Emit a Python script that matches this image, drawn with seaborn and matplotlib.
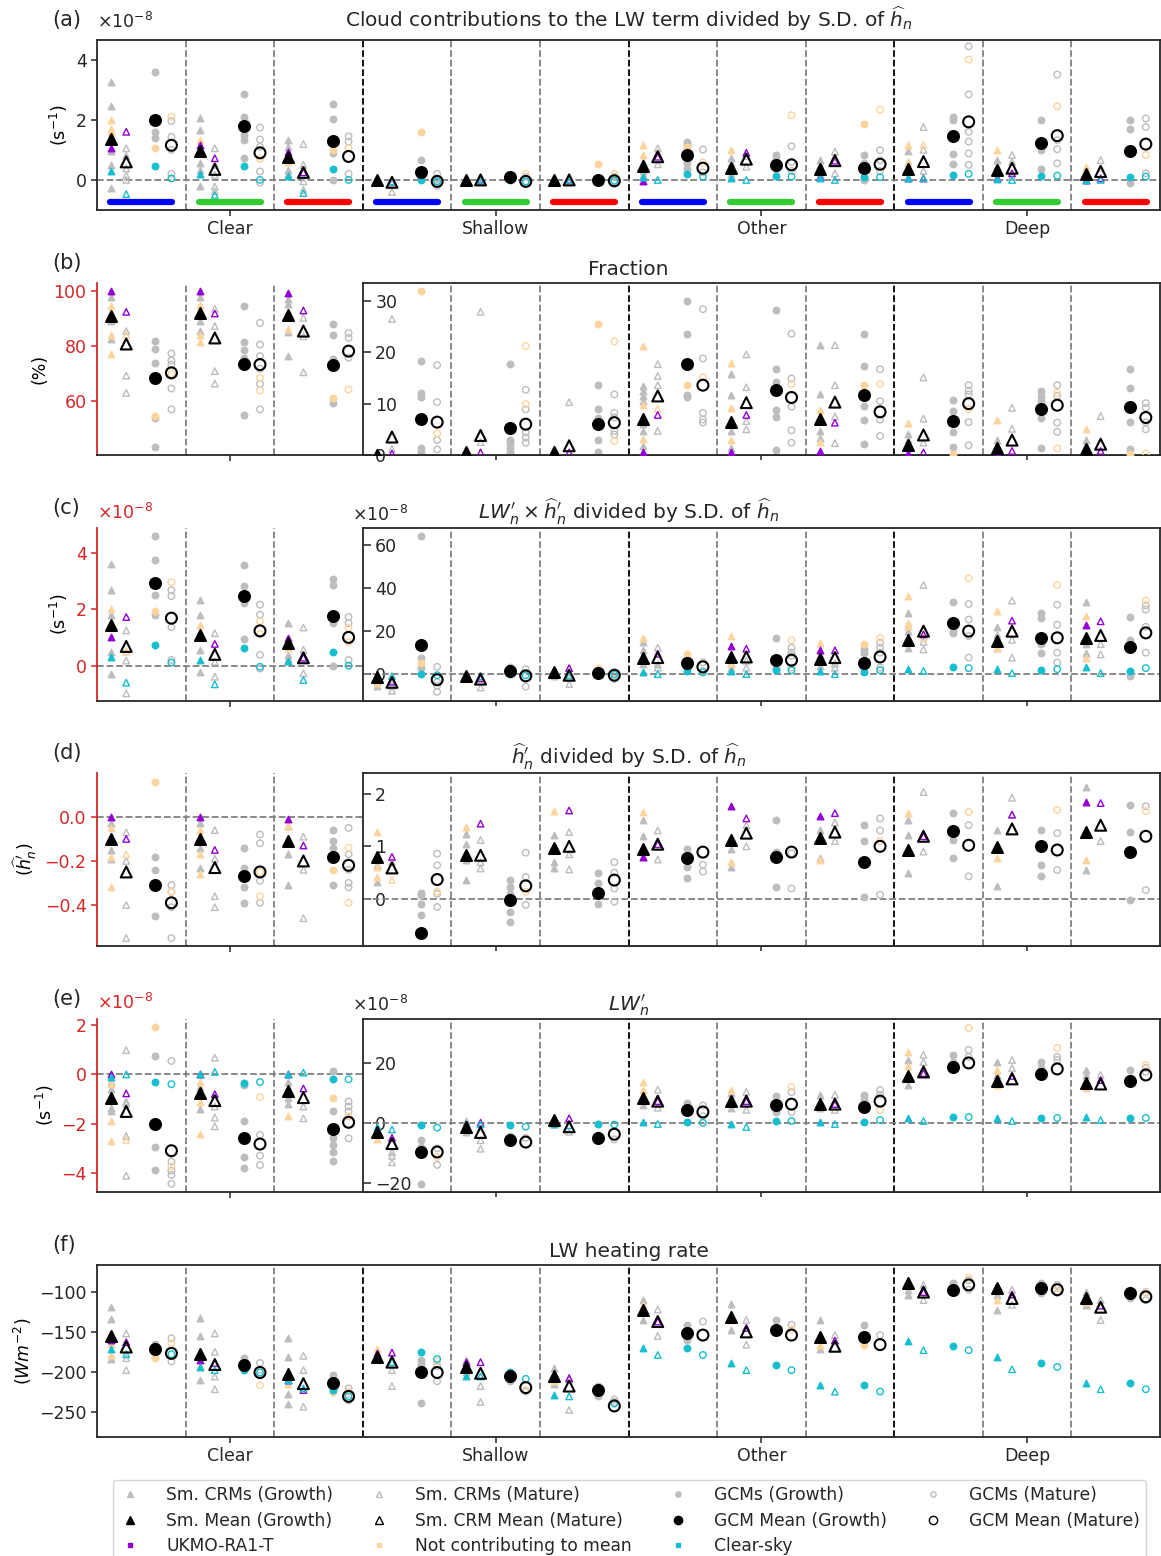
import matplotlib
matplotlib.use("Agg")
import matplotlib.pyplot as plt
import seaborn as sns
from matplotlib.lines import Line2D

sns.set_style("ticks")
plt.rcParams['font.family'] = ['DejaVu Sans']
plt.rcParams['axes.linewidth'] = 1.3

REGIMES = ["Clear", "Shallow", "Other", "Deep"]
SUB_COLORS = ["#0000ff", "#33cc33", "#ff0000"]
# column order in every group: Sm. CRM growth, Sm. CRM mature, GCM growth, GCM mature

# ---------------- (a) cloud contributions, units 1e-8 s^-1
A_MEAN = [[1.35, 0.6, 2.0, 1.15], [0.97, 0.35, 1.78, 0.9], [0.75, 0.25, 1.29, 0.78],
          [0.0, -0.08, 0.25, -0.05], [0.0, 0.0, 0.1, -0.05], [0.0, 0.0, 0.0, -0.03],
          [0.47, 0.77, 0.83, 0.39], [0.39, 0.69, 0.5, 0.5], [0.36, 0.64, 0.39, 0.52],
          [0.36, 0.61, 1.47, 1.93], [0.33, 0.39, 1.23, 1.47], [0.2, 0.28, 0.96, 1.19]]
A_CLR = [[0.28, -0.47, 0.47, 0.05], [0.2, -0.5, 0.47, 0.0], [0.13, -0.44, 0.35, 0.0],
         [0.0, -0.05, 0.0, -0.05], [0.0, -0.02, 0.0, -0.05], [0.0, -0.02, 0.0, -0.03],
         [0.1, 0.0, 0.19, 0.11], [0.05, 0.0, 0.13, 0.11], [0.05, 0.0, 0.1, 0.09],
         [0.05, 0.05, 0.17, 0.2], [0.03, 0.0, 0.12, 0.14], [0.0, 0.0, 0.11, 0.11]]
A_UKMO = [[1.05, 1.6], [1.15, 0.72], [0.94, 0.25], [0.0, -0.05], [0.0, 0.0], [0.0, 0.0],
          [-0.05, 0.77], [0.39, 0.9], [0.11, 0.64], [0.05, 0.05], [0.05, 0.22], [0.0, 0.05]]
A_GREY = [[[3.25, 2.45, 0.95, 0.5, -0.27], [1.05, 0.8, 0.38, 0.15, 0.0], [3.6, 1.6, 1.38], [1.96, 1.43, 1.0, 0.2]],
          [[2.07, 1.65, 0.55, 0.33, -0.19], [1.05, 0.5, 0.17, -0.22, -0.38], [2.87, 2.1, 1.5, 1.33, 0.74], [1.74, 1.34, 1.1, 0.28, -0.09]],
          [[1.34, 1.1, 0.33, 0.2], [1.19, 0.5, -0.05, -0.33], [2.53, 2.02, 0.88, 0.0], [1.45, 1.27, 0.2]],
          [[0.05, -0.05], [-0.4, -0.1], [0.66, 0.1], [0.2, -0.2, 0.05]],
          [[0.02], [0.05, -0.05], [0.15, 0.05], [-0.1, 0.1]],
          [[0.02], [0.03], [0.05], [0.1, -0.05]],
          [[0.6, 0.3, 0.15], [1.05, 0.52, 0.9], [1.27, 1.15, 0.55, 0.35], [1.01, 0.25]],
          [[0.72, 0.55, 0.2], [0.44, 0.8], [0.83, 0.7, 0.35], [1.12, 0.3, 0.6]],
          [[0.66, 0.5, 0.2], [0.94, 0.22, 0.75], [0.83, 0.0, 0.55], [0.99, 0.3, 0.65]],
          [[0.95, 0.6, 0.1], [1.76, 1.0, 0.3], [2.09, 2.0, 0.86, 0.53], [4.44, 2.84, 1.6, 1.27, 0.88, 0.5]],
          [[0.66, 0.45, 0.1], [0.83, 0.6, 0.1], [1.98, 1.0, 0.35], [3.5, 1.32, 1.02, 0.55]],
          [[0.3, 0.1], [0.66, 0.4], [2.0, 1.7, -0.09], [2.04, 1.76, 0.22]]]
A_NOTC = [[[2.0, 1.7, 1.6], [], [1.05], [2.1]], [[1.32], [], [], [0.7]], [[0.6], [], [1.0], [1.05]],
          [[], [], [1.6], []], [[], [], [], [0.2]], [[], [], [0.53], [0.2]],
          [[1.16, 0.83], [], [1.1], [0.58]], [[1.01], [], [], [2.15]], [[], [], [1.87], [2.34]],
          [[1.16, 0.6], [1.16], [], [4.0]], [[1.01], [], [], [2.45]], [[0.44], [], [], [0.83]]]

# ---------------- (b) fraction, %
B_MEAN = [[90.9, 80.8, 68.5, 70.3], [92.0, 83.0, 73.6, 73.3], [91.5, 85.5, 73.3, 78.2],
          [0.0, 3.5, 7.1, 6.4], [0.5, 3.8, 5.2, 6.0], [0.5, 1.8, 6.0, 6.3],
          [7.1, 11.5, 17.8, 13.6], [6.5, 10.2, 12.7, 11.2], [7.1, 10.3, 11.7, 8.4],
          [1.9, 3.9, 6.6, 10.0], [1.4, 2.9, 8.9, 9.7], [1.1, 2.1, 9.4, 7.3]]
B_UKMO = [[100, 92.5], [100, 91.9], [99.4, 93], [0.2, 0.3], [0.2, 0.5], [0.2, 0.5],
          [0.5, 7.8], [0.5, 7.8], [0.8, 6.3], [0.3, 0.5], [0.3, 0.8], [0.3, 0.8]]
B_GREY = [[[98, 89, 82.7], [85.5, 69.3, 63], [82, 78.8, 74, 54, 43.3], [77.3, 74.8, 73.3, 64.6, 57]],
          [[98, 89, 85.7], [93.6, 87.3, 70.9, 66.4], [94.8, 81.5, 78.5, 75.8, 55], [88.5, 80.6, 76.4, 71.8, 66.3, 57]],
          [[97, 95.2, 85, 76.6], [90.3, 83.6, 70.5], [88.2, 83.9, 75.2, 59.4], [84.8, 83, 75.8]],
          [[0.5], [26.5, 1.2], [18.4, 12, 11.2, 1.4, 0.5], [17.5, 10.3, 2.9, 1.1]],
          [[0.3], [27.9, 2.5], [17.7, 3, 2.4, 1.4, 0.5], [12.7, 8.9, 4.4, 3.4, 2.4]],
          [[1.2], [10.3], [13.6, 8.9, 7.3, 2.9, 0.6], [11.8, 8.2, 7.3, 4.7, 4]],
          [[13.4, 12.5, 11.5, 10.5, 6, 4.7, 1.8], [17.7, 15.4, 13.6, 4.7], [30, 23.5, 11.6, 11.2], [28.4, 18.8, 8.2, 6.9, 6.3]],
          [[15.8, 11.7, 4.7, 1.4], [19.6, 13.2, 6.6, 5], [28.2, 16.8, 14.2, 8.7, 7.4, 0.9], [23.6, 14.9, 9.4, 4.8, 2.4]],
          [[21.4, 11.9, 4.7, 3.4], [21.4, 13.6, 7.5, 2.3], [23.6, 17.3, 9.5, 6.8, 2.1], [16.7, 10.5, 6.9, 3.7]],
          [[4, 3], [15.1, 7.1, 2.4], [10.7, 8.6, 4.4, 1.6], [13.6, 12.5, 11.8, 6.4, 1.9]],
          [[3, 2], [9.2, 5.1], [12.5, 11.5, 10.5, 7.3, 1.4], [13.6, 11.5, 6.3, 4.5]],
          [[3, 2], [7.6], [16.8, 13.1, 6.5, 1.1], [10.1, 9.2, 6.4, 5]]]
B_NOTC = [[[94.8, 83.9, 77], [84.2], [54.5], [70]], [[95, 83.9, 81.5], [], [], [68.5, 63.9]],
          [[86.3], [], [61], [64.2]], [[], [], [32], [4.2]], [[], [], [], [21.2, 9.9]],
          [[], [], [25.5], [22.1, 2.7]], [[21.2, 9.7, 3.2], [9], [13.6], [15.1]],
          [[18, 9.2, 2.9], [], [], [13.8]], [[8.7, 2.5], [], [13.6], [13.8]],
          [[6.3], [], [0.1], [9]], [[6.8], [], [], [12.1, 1.3]], [[5], [], [0.1], [0.3]]]

# ---------------- (c) LW' x h' divided by S.D., units 1e-8
C_MEAN = [[1.45, 0.68, 2.93, 1.68], [1.09, 0.4, 2.46, 1.23], [0.8, 0.28, 1.74, 1.0],
          [-1.5, -3.8, 13.5, -2.6], [-0.8, -2.3, 1.5, -0.8], [0.8, -0.5, 0.5, -0.5],
          [7.7, 7.7, 5.1, 3.4], [8.0, 8.0, 6.5, 6.5], [6.9, 7.7, 5.4, 8.0],
          [16.0, 20.0, 23.8, 20.0], [15.4, 20.0, 16.9, 16.9], [16.9, 18.0, 12.8, 19.2]]
C_CLR = [[0.32, -0.6, 0.74, 0.11], [0.2, -0.66, 0.62, -0.04], [0.17, -0.51, 0.5, 0.0],
         [-1.0, -1.0, 0.0, -0.5], [-0.5, -1.0, 0.0, -0.5], [0.0, -0.5, 0.0, -0.3],
         [0.8, 0.0, 1.5, 0.8], [1.5, 0.0, 1.8, 1.8], [1.5, 0.0, 1.2, 1.8],
         [2.3, 1.5, 3.1, 2.8], [2.3, 0.5, 2.0, 2.3], [3.1, 0.5, 1.5, 2.8]]
C_UKMO = [[1.03, 1.72], [1.1, 0.77], [0.97, 0.28], [-1.5, -3.5], [-0.8, -2.0], [0.8, 2.8],
          [7.7, 9.5], [13.1, 11.8], [11.2, 11.1], [16.0, 18.5], [15.4, 24.9], [23.0, 24.6]]
C_GREY = [[[3.58, 2.66, 1.8, 0.5, -0.31], [1.25, 0.5, 0.18, -0.98], [4.59, 3.74, 2.51, 1.8], [2.67, 2.46, 1.36, 0.2]],
          [[2.34, 1.8, 0.56, -0.21], [1.15, 0.14, -0.39], [3.55, 2.81, 2.22, 0.94], [2.16, 1.8, 0.38, -0.1]],
          [[1.5, 0.38, 0.25], [1.35, 0.56, -0.27], [3.08, 2.85, 1.5, 0.0], [1.72, 1.5, 0.2]],
          [[-3.0, -5.5], [-7.7, -5.5], [64.3, 7.7, 3.0], [3.4, -3.8, -5.4, -8.2]],
          [[-1.5], [-6.2, -1.5], [3.1, 0.5], [2.3, -5.8]],
          [[-0.8], [-4.6, -1.5], [0.8], [-2.3, 0.5]],
          [[15.0, 11.1, 4.6], [12.3, 4.5, 3.0], [7.5, 3.0], [5.5, 1.5]],
          [[5.0, 3.0], [6.2, 3.0], [16.6, 7.0, 3.0], [12.3, 10.0, 8.5, 3.0]],
          [[9.0, 4.0], [5.0, 3.0], [11.5, 10.0, 3.5], [14.6, 12.3, 10.0, 3.0]],
          [[28.5, 20.0, 12.0], [41.5, 15.0, 11.5], [33.5, 20.0, 19.0], [32.6, 25.4, 17.7, 7.7]],
          [[22.0, 18.0, 12.0], [34.2, 16.0, 7.7], [28.5, 26.2, 13.8, 10.0], [32.3, 23.0, 10.0, 5.4]],
          [[33.5, 14.0, 10.0], [14.0, 9.2], [26.5, 16.0, -1.0], [30.0, 32.0, 22.0, 10.0]]]
C_NOTC = [[[2.0], [0.5], [1.92], [2.95]], [[1.45], [], [], [1.57, 1.12]], [[0.64], [], [], [1.33, 0.83]],
          [[-4.3], [], [5.4], []], [[-2.3], [], [], []], [[], [], [2.8], []],
          [[16.6], [], [9.2], []], [[17.7, 4.5], [], [], [15.8]], [[14.6, 6.0], [], [13.8], [16.9]],
          [[36.2, 23.8, 22.3], [17.0], [], [44.6]], [[29.2, 12.3], [], [], [41.5]], [[26.9, 7.7], [], [], [34.2]]]

# ---------------- (d) h' divided by S.D.
D_MEAN = [[-0.1, -0.25, -0.31, -0.39], [-0.1, -0.23, -0.27, -0.25], [-0.11, -0.2, -0.18, -0.22],
          [0.79, 0.59, -0.65, 0.37], [0.83, 0.83, -0.02, 0.25], [0.96, 1.0, 0.11, 0.36],
          [0.95, 1.04, 0.78, 0.89], [1.12, 1.25, 0.8, 0.89], [1.16, 1.27, 0.7, 1.0],
          [0.93, 1.19, 1.29, 1.02], [0.98, 1.33, 1.0, 0.93], [1.27, 1.4, 0.89, 1.19]]
D_UKMO = [[0.0, -0.1], [0.0, -0.15], [-0.01, -0.13], [0.79, 0.8], [0.83, 1.43], [0.96, 1.68],
          [0.8, 1.04], [1.76, 1.53], [1.57, 1.63], [0.93, 1.19], [0.98, 1.6], [1.84, 1.82]]
D_GREY = [[[-0.03, -0.15, -0.19], [-0.07, -0.2, -0.4, -0.55], [-0.18, -0.24, -0.45], [-0.31, -0.34, -0.41, -0.55]],
          [[-0.03, -0.14, -0.23], [-0.06, -0.19, -0.36, -0.41], [-0.14, -0.23, -0.32, -0.39], [-0.08, -0.12, -0.29, -0.39]],
          [[-0.04, -0.17, -0.31], [-0.09, -0.24, -0.46], [-0.06, -0.11, -0.14, -0.31], [-0.05, -0.17, -0.24, -0.3, -0.32]],
          [[0.65, 0.33], [0.7], [0.11, 0.08, -0.1, -0.3], [0.86, 0.64, 0.1, -0.15]],
          [[1.24, 1.05, 0.74, 0.37], [1.12, 0.7, 0.58], [0.36, 0.23, 0.1, -0.24, -0.43], [0.88, 0.42, -0.11]],
          [[1.21, 0.7, 0.58], [1.27, 0.85, 0.56], [0.5, 0.3, -0.1], [0.7, 0.5, 0.2, -0.05]],
          [[1.5, 1.2, 0.8], [1.3, 0.75], [0.95, 0.6, 0.4], [0.65, 0.52]],
          [[0.95, 0.6], [1.4, 1.0], [1.5, 0.9, 0.23], [0.87, 0.2]],
          [[0.78, 1.3], [1.45, 1.1], [1.4, 1.1, 0.04], [1.53, 1.3, 0.08]],
          [[1.5, 1.22, 0.5], [2.03, 0.9], [1.63, 1.12, 0.78], [1.4, 0.43]],
          [[1.3, 0.25], [1.92, 1.6], [1.3, 0.65, 0.44], [1.25, 0.55]],
          [[2.12, 0.55], [1.1], [1.78, 1.27, -0.02], [1.76, 0.17]]]
D_NOTC = [[[-0.05, -0.18, -0.32], [-0.17], [0.16], [-0.34]], [[-0.06, -0.17, -0.26], [], [], [-0.25, -0.36]],
          [[-0.04], [], [-0.24], [-0.14, -0.39]], [[1.27, 0.61, 0.42], [0.36], [-0.6], [0.14]],
          [[1.37], [], [], [0.14]], [[1.67], [], [], []], [[1.65], [], [], []], [[0.7], [], [], []],
          [[0.75], [], [], [1.1]], [[1.63], [], [], [1.65]], [[0.78], [], [], [1.69]], [[0.75], [], [], [1.67]]]

# ---------------- (e) LW', units 1e-8
E_MEAN = [[-0.97, -1.5, -2.02, -3.09], [-0.77, -1.06, -2.56, -2.82], [-0.67, -0.94, -2.22, -1.94],
          [-3.0, -6.9, -9.7, -9.7], [-1.3, -3.2, -5.8, -6.4], [0.9, -1.3, -5.1, -3.8],
          [8.2, 7.2, 4.2, 3.6], [7.2, 7.2, 5.9, 6.2], [6.2, 6.2, 5.2, 7.2],
          [15.5, 16.9, 18.6, 19.9], [13.9, 14.6, 16.2, 17.9], [13.2, 12.9, 13.9, 15.9]]
E_CLR = [[-0.1, 0.0, -0.32, -0.4], [0.0, 0.1, -0.34, -0.31], [0.0, 0.07, -0.2, -0.2],
         [-1.3, -2.2, -0.6, -1.6], [-0.5, -0.5, -0.8, -1.3], [-0.3, -0.8, -0.5, -0.6],
         [0.2, -0.4, 0.2, 0.0], [-0.4, -1.4, 0.6, 0.6], [0.2, -0.4, 0.2, 0.9],
         [1.6, 0.6, 1.9, 1.9], [1.6, 0.6, 1.6, 1.6], [1.9, 0.9, 1.6, 1.6]]
E_UKMO = [[0.0, -0.77], [0.0, -0.8], [0.0, -0.57], [-3.0, -5.0], [-0.5, 0.0], [0.9, 1.5],
          [8.2, 7.2], [7.2, 7.2], [6.2, 6.2], [15.5, 16.5], [13.9, 15.6], [13.2, 14.2]]
E_GREY = [[[-0.3, -0.6, -1.37, -1.5], [0.98, -1.1, -1.2, -2.5, -4.1], [0.75, -2.92, -3.87], [0.54, -3.53, -3.9, -4.07, -4.43]],
          [[-0.5, -1.4], [0.67, -1.3, -1.75, -2.1], [-0.43, -1.89, -3.33, -3.77], [-2.45, -3.29, -3.67]],
          [[-0.3, -0.97, -1.2], [-1.3, -1.78], [0.13, -1.48, -2.59, -2.86, -3.13, -3.49], [-1.1, -1.3, -1.5, -2.59]],
          [[-2.0], [-9.7, -13.1, -11.0], [-5.8, -8.0, -20.4], [-8.5, -14.0]],
          [[0.5, -3.0], [-5.8, -8.6], [-4.5], [-5.0]],
          [[1.5, -0.5], [-3.0], [-4.0], [-5.5]],
          [[9.0, 6.0], [11.0, 5.0], [6.5], [5.8, 2.2]],
          [[10.0, 5.0], [10.3, 4.3], [9.0, 3.6], [10.2, 3.6]],
          [[9.3, 5.0], [9.3, 4.3], [9.3, 7.6], [10.9, 9.3]],
          [[20.9, 12.5], [22.6, 20.2], [22.6, 20.2], [24.2, 21.9]],
          [[20.2, 15.9], [20.9, 18.2], [20.2, 18.2], [20.9, 21.9]],
          [[15.9, 17.6], [15.9], [17.6, 14.9], [18.2, 16.9]]]
E_NOTC = [[[-0.4, -1.9, -2.7], [-2.65], [1.9], [-3.73]], [[-0.3, -1.1, -2.43], [], [], [-0.92]],
          [[-1.67], [], [-0.97], [-1.7]], [[-5.3], [], [], [-11.4]], [[], [], [], []], [[], [], [], []],
          [[13.5, 11.0], [], [], []], [[11.0], [], [], [11.9]], [[6.0], [], [], [4.3]],
          [[23.5, 19.0], [], [], [31.5]], [[17.6, 12.5], [], [], [24.9]], [[11.6], [], [], [19.2]]]

# ---------------- (f) LW heating rate, W m^-2
F_MEAN = [[-155, -169, -172, -177], [-178, -191, -191, -201], [-203, -215, -214, -231],
          [-182, -188, -200, -201], [-194, -202, -206, -220], [-206, -218, -223, -243],
          [-122, -137, -151, -154], [-131, -150, -147, -154], [-156, -168, -157, -166],
          [-89, -100, -97, -91], [-95, -108, -95, -97], [-108, -119, -101, -106]]
F_CLR = [[-171, -178, -172, -178], [-194, -198, -198, -201], [-211, -221, -223, -231],
         [-182, -188, -175, -184], [-206, -206, -200, -209], [-229, -231, -223, -240],
         [-170, -179, -170, -179], [-189, -198, -191, -198], [-217, -225, -217, -225],
         [-161, -173, -168, -173], [-182, -197, -189, -194], [-214, -222, -214, -222]]
F_UKMO = [[-160, -163], [-185, -189], [-210, -223], [-176, -176], [-188, -188], [-206, -208],
          [-122, -137], [-131, -145], [-156, -161], [-89, -100], [-95, -103], [-108, -117]]
F_GREY = [[[-119, -134, -184], [-152, -183, -198], [-165, -175], [-158, -187]],
          [[-133, -155, -210], [-152, -175, -206, -222], [-183, -187], [-189, -205]],
          [[-158, -181, -240, -228], [-180, -198, -244], [-204, -220], [-221, -236]],
          [[-180], [-198, -218], [-185, -239, -190], [-193, -212]],
          [[-185, -200], [-218, -238], [-212], [-225]],
          [[-195, -215], [-248, -210], [-218, -230], [-235, -238]],
          [[-110, -135], [-122, -155], [-141, -160], [-137]],
          [[-115, -147], [-135, -166], [-135], [-141]],
          [[-135, -172], [-154], [-141], [-154]],
          [[-97, -104], [-91, -110], [-88], [-85, -97]],
          [[-104, -122], [-97, -116], [-88, -101], [-91, -101]],
          [[-116, -100], [-135, -110], [-97, -107], [-110, -100]]]
F_NOTC = [[[-179, -165], [], [-183], [-164]], [[-191], [], [], [-217]], [[-215], [], [-226], [-225]],
          [[-172], [], [-203], [-187]], [[], [], [], [-223]], [[-212], [], [], []],
          [[-116], [], [], []], [[-135], [], [], [-147]], [[-166], [], [-166], []],
          [[-86], [], [], [-82]], [[-110], [], [], [-95]], [[-113], [], [], [-101]]]

GREY = "#bdbdbd"
NOTC = "#fdd49e"
UKMO = "#9400d3"
CLRC = "#17becf"
RED = "#d62728"
OFFS = [0.16, 0.33, 0.66, 0.84]

W, H = 1161, 1556
fig = plt.figure(figsize=(W / 100, H / 100), dpi=100)


def new_ax(top, bot):
    return fig.add_axes([97 / W, 1 - bot / H, (1160 - 97) / W, (bot - top) / H])


def scat(ax, xs, ys, k, color, s, edge=None, lw=1.0, z=2):
    if not xs:
        return
    kw = dict(x=xs, y=ys, ax=ax, marker='^' if k < 2 else 'o', s=s,
              legend=False, zorder=z, linewidth=lw, color=color,
              edgecolor=edge if edge else color)
    if k % 2 == 1:
        kw['facecolor'] = 'none'
    sns.scatterplot(**kw)


def draw(ax, groups, mean, clr, ukmo, grey, notc):
    for k in range(4):
        for data, col, z in [(grey, GREY, 2), (notc, NOTC, 3)]:
            xs, ys = [], []
            for g in groups:
                xs += [g + OFFS[k]] * len(data[g][k])
                ys += data[g][k]
            scat(ax, xs, ys, k, col, 22, z=z)
        if k < 2:
            scat(ax, [g + OFFS[k] for g in groups], [ukmo[g][k] for g in groups], k, UKMO, 22, z=4)
        if clr is not None:
            scat(ax, [g + OFFS[k] for g in groups], [clr[g][k] for g in groups], k, CLRC, 22, z=4)
        scat(ax, [g + OFFS[k] for g in groups], [mean[g][k] for g in groups], k, 'black', 62,
             edge='black', lw=1.5, z=6)


def vlines(ax, xs):
    for x in xs:
        black = x % 3 == 0
        ax.axvline(x, color='black' if black else 'grey', ls='--', lw=1.3, zorder=1)


panels = [
    ("(a)", 40, 210, A_MEAN, A_CLR, A_UKMO, A_GREY, A_NOTC),
    ("(b)", 283, 455, B_MEAN, None, B_UKMO, B_GREY, B_NOTC),
    ("(c)", 528, 701, C_MEAN, C_CLR, C_UKMO, C_GREY, C_NOTC),
    ("(d)", 773, 946, D_MEAN, None, D_UKMO, D_GREY, D_NOTC),
    ("(e)", 1019, 1192, E_MEAN, E_CLR, E_UKMO, E_GREY, E_NOTC),
    ("(f)", 1265, 1437, F_MEAN, F_CLR, F_UKMO, F_GREY, F_NOTC),
]
titles = [r"Cloud contributions to the LW term divided by S.D. of $\widehat{h}_n$",
          "Fraction",
          r"$LW_n' \times \widehat{h}_n'$ divided by S.D. of $\widehat{h}_n$",
          r"$\widehat{h}_n'$ divided by S.D. of $\widehat{h}_n$",
          r"$LW_n'$",
          "LW heating rate"]
ylabels = [r"(s$^{-1}$)", "(%)", r"(s$^{-1}$)", r"($\widehat{h}_n'$)", r"(s$^{-1}$)", r"($Wm^{-2}$)"]
left_lim = [(-1, 4.65), (40.4, 103), (-1.25, 4.87), (-0.586, 0.199), (-4.76, 2.24), (-282, -66)]
left_ticks = [[0, 2, 4], [60, 80, 100], [0, 2, 4], [-0.4, -0.2, 0.0], [-4, -2, 0, 2], [-250, -200, -150, -100]]
right_lim = [None, (0, 33.5), (-12.5, 68), (-0.89, 2.39), (-23, 34.5), None]
right_ticks = [None, [0, 10, 20, 30], [0, 20, 40, 60], [0, 1, 2], [-20, 0, 20], None]
zero_line = [True, False, True, True, True, False]

for i, (lab, top, bot, mean, clr, ukmo, grey, notc) in enumerate(panels):
    ax = new_ax(top, bot)
    ax.set_xlim(0, 12)
    ax.set_ylim(*left_lim[i])
    ax.set_yticks(left_ticks[i])
    ax.tick_params(labelsize=12.5, length=4, width=1.1)
    fig.text(52 / W, 1 - (top - 20) / H, lab, fontsize=15, va='center')
    split = right_lim[i] is not None
    if not split:
        draw(ax, range(12), mean, clr, ukmo, grey, notc)
        vlines(ax, [1, 2, 3, 4, 5, 6, 7, 8, 9, 10, 11])
        if zero_line[i]:
            ax.axhline(0, color='grey', ls='--', lw=1.3, zorder=1)
        ax.set_xticks([1.5, 4.5, 7.5, 10.5], REGIMES)
    else:
        draw(ax, range(3), mean, clr, ukmo, grey, notc)
        vlines(ax, [1, 2])
        if zero_line[i]:
            ax.axhline(0, xmax=0.25, color='grey', ls='--', lw=1.3, zorder=1)
        ax.set_xticks([1.5], [""])
        for side in ['top', 'right']:
            ax.spines[side].set_visible(False)
        ax.spines['left'].set_color(RED)
        ax.tick_params(axis='y', colors=RED)
        ax2 = ax.inset_axes([0.25, 0, 0.75, 1])
        ax2.set_facecolor('white')
        ax2.set_xlim(3, 12)
        ax2.set_ylim(*right_lim[i])
        draw(ax2, range(3, 12), mean, clr, ukmo, grey, notc)
        vlines(ax2, [4, 5, 6, 7, 8, 9, 10, 11])
        if zero_line[i]:
            ax2.axhline(0, color='grey', ls='--', lw=1.3, zorder=1)
        ax2.set_xticks([4.5, 7.5, 10.5], ["", "", ""])
        ax2.set_yticks(right_ticks[i])
        ax2.tick_params(labelsize=12.5, width=1.1)
        ax2.tick_params(axis='y', direction='in', length=6, pad=-9)
        plt.setp(ax2.get_yticklabels(), ha='left')
        ax2.set_xlabel("")
        ax2.set_ylabel("")
    ax.set_xlabel("")
    ax.set_ylabel(ylabels[i], fontsize=12.5, color='black')
    ax.set_title(titles[i], fontsize=14.5, pad=9 if i == 0 else 6)

    if i == 0:
        for g in range(12):
            ax.plot([g + 0.15, g + 0.85], [-0.75, -0.75], color=SUB_COLORS[g % 3], lw=4.5,
                    solid_capstyle='round', zorder=3)

# offset texts
fig.text(97 / W, 1 - 22 / H, r"$\times10^{-8}$", fontsize=12.5, va='center')
fig.text(97 / W, 1 - 513 / H, r"$\times10^{-8}$", fontsize=12.5, va='center', color=RED)
fig.text(352 / W, 1 - 515 / H, r"$\times10^{-8}$", fontsize=12.5, va='center')
fig.text(97 / W, 1 - 1003 / H, r"$\times10^{-8}$", fontsize=12.5, va='center', color=RED)
fig.text(352 / W, 1 - 1005 / H, r"$\times10^{-8}$", fontsize=12.5, va='center')


# legend
def h(marker, color, filled=True, ms=3.8):
    return Line2D([], [], ls='', marker=marker, color=color, ms=ms,
                  mfc=color if filled else 'none', mec=color)


handles = [h('^', GREY), h('^', 'black', ms=6), h('s', UKMO, ms=3.5),
           h('^', GREY, False), h('^', 'black', False, ms=6), h('s', NOTC, ms=3.5),
           h('o', GREY), h('o', 'black', ms=6), h('s', CLRC, ms=3.5),
           h('o', GREY, False), h('o', 'black', False, ms=6)]
labels = ["Sm. CRMs (Growth)", "Sm. Mean (Growth)", "UKMO-RA1-T",
          "Sm. CRMs (Mature)", "Sm. CRM Mean (Mature)", "Not contributing to mean",
          "GCMs (Growth)", "GCM Mean (Growth)", "Clear-sky",
          "GCMs (Mature)", "GCM Mean (Mature)"]
fig.legend(handles, labels, loc='lower center', bbox_to_anchor=(0.542, -0.0085), ncol=4,
           fontsize=12.3, handlelength=1.4, handletextpad=1.4, columnspacing=2.0,
           labelspacing=0.42, borderpad=0.35, frameon=True)

fig.savefig("out.png", dpi=100)
